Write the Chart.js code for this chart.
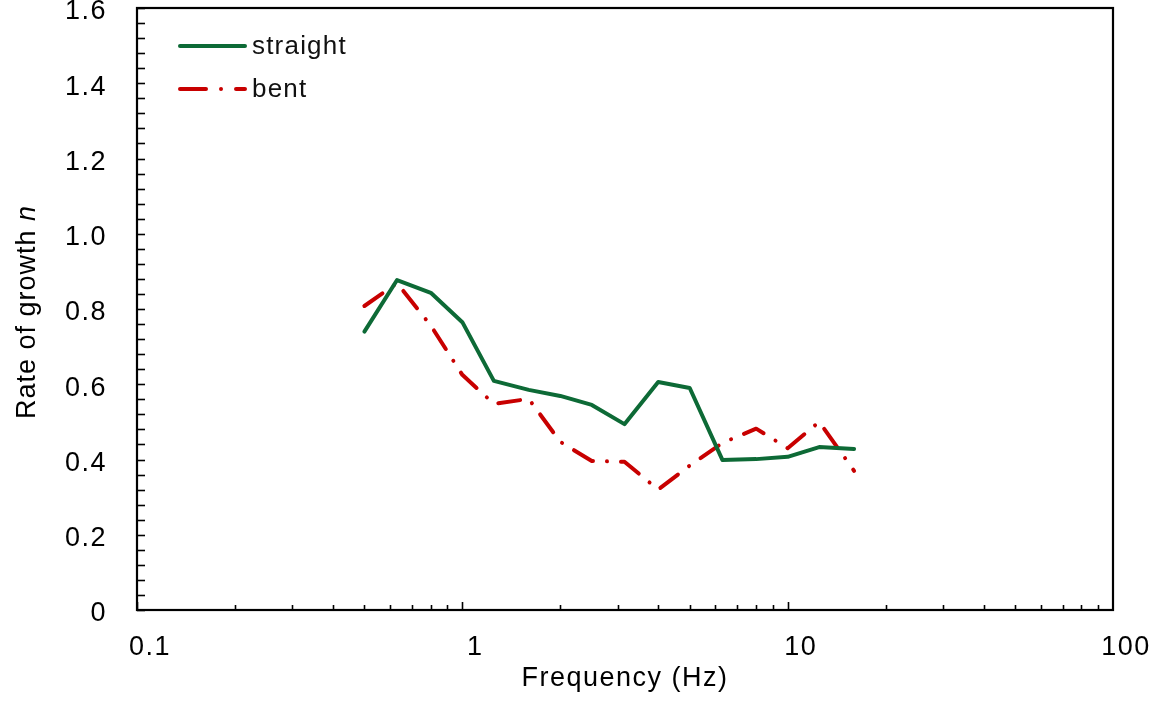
<!DOCTYPE html>
<html>
<head>
<meta charset="utf-8">
<script src="https://cdn.jsdelivr.net/npm/chart.js@4.4.1/dist/chart.umd.min.js"></script>
<style>
  html, body { margin: 0; padding: 0; background: #fff; }
  #wrap { width: 1159px; height: 702px; }
</style>
</head>
<body>
<div id="wrap"><canvas id="c" width="1159" height="702"></canvas></div>
<script>
// ---- data ----
const frequencies = [0.5, 0.63, 0.8, 1, 1.25, 1.6, 2, 2.5, 3.15, 4, 5, 6.3, 8, 10, 12.5, 16];
const straightValues = [0.740, 0.877, 0.843, 0.765, 0.609, 0.585, 0.569, 0.545, 0.494, 0.606, 0.590, 0.399, 0.401, 0.407, 0.433, 0.428];
const bentValues = [0.808, 0.869, 0.756, 0.625, 0.548, 0.561, 0.447, 0.396, 0.394, 0.320, 0.384, 0.444, 0.482, 0.430, 0.500, 0.370];
const seriesNames = ['straight', 'bent'];
const xTickValues = [0.1, 1, 10, 100];
const xTickLabels = ['0.1', '1', '10', '100'];
const yTickValues = [0, 0.2, 0.4, 0.6, 0.8, 1.0, 1.2, 1.4, 1.6];
const yTickLabels = ['0', '0.2', '0.4', '0.6', '0.8', '1.0', '1.2', '1.4', '1.6'];
const xTitle = 'Frequency (Hz)';
const yTitleMain = 'Rate of growth ';
const yTitleItalic = 'n';

const GREEN = '#0d6a36';
const RED = '#c80000';
const FONT = '"Liberation Sans", Arial, Helvetica, sans-serif';
const FS = 27;

const spacingPlugin = {
  id: 'spacing',
  beforeLayout(c) { c.ctx.letterSpacing = '1.5px'; },
  beforeDraw(c) { c.ctx.letterSpacing = '1.5px'; }
};

const framePlugin = {
  id: 'frame',
  afterDatasetsDraw(c) {
    const ctx = c.ctx, a = c.chartArea;
    const xs = c.scales.x, ys = c.scales.y;
    ctx.save();
    ctx.strokeStyle = '#000';
    ctx.lineWidth = 1.6;
    for (let i = 0; i <= 40; i++) {
      const py = Math.round(ys.getPixelForValue(i * 0.04)) + 0.5;
      ctx.beginPath(); ctx.moveTo(a.left, py); ctx.lineTo(a.left + 8, py); ctx.stroke();
    }
    for (let d = 0; d < 3; d++) {
      const dec = Math.pow(10, d - 1);
      for (let m = 1; m <= 9; m++) {
        const px = Math.round(xs.getPixelForValue(dec * m)) + 0.5;
        const len = m === 1 ? 8 : 5;
        ctx.beginPath(); ctx.moveTo(px, a.bottom); ctx.lineTo(px, a.bottom - len); ctx.stroke();
      }
    }
    ctx.lineWidth = 2.2;
    ctx.strokeRect(a.left, a.top, a.right - a.left, a.bottom - a.top);
    ctx.restore();
  },
  afterDraw(c) {
    const ctx = c.ctx, a = c.chartArea;
    ctx.save();
    ctx.letterSpacing = '1px';
    ctx.fillStyle = '#000';
    ctx.textBaseline = 'alphabetic';
    ctx.textAlign = 'left';
    const fN = FS + 'px ' + FONT, fI = 'italic ' + FS + 'px ' + FONT;
    ctx.font = fN; const w1 = ctx.measureText(yTitleMain).width;
    ctx.font = fI; const w2 = ctx.measureText(yTitleItalic).width;
    const cy = (a.top + a.bottom) / 2 + 3;
    ctx.translate(35, cy);
    ctx.rotate(-Math.PI / 2);
    ctx.font = fN; ctx.fillText(yTitleMain, -(w1 + w2) / 2, 0);
    ctx.font = fI; ctx.fillText(yTitleItalic, -(w1 + w2) / 2 + w1, 0);
    ctx.restore();

    ctx.save();
    ctx.letterSpacing = '1.2px';
    const rows = [46, 89];
    c.data.datasets.forEach((ds, i) => {
      const y = rows[i];
      ctx.strokeStyle = ds.borderColor;
      ctx.lineWidth = 4;
      ctx.lineCap = 'round';
      ctx.setLineDash(i === 0 ? [] : [26, 15, 0.01, 15]);
      ctx.beginPath(); ctx.moveTo(180, y); ctx.lineTo(245, y); ctx.stroke();
      ctx.setLineDash([]);
      ctx.fillStyle = '#111';
      ctx.font = '26px ' + FONT;
      ctx.textBaseline = 'middle';
      ctx.textAlign = 'left';
      ctx.fillText(ds.label, 252, y + 1);
    });
    ctx.restore();
  }
};

const toPts = vals => frequencies.map((f, i) => ({ x: f, y: vals[i] }));

new Chart(document.getElementById('c'), {
  type: 'line',
  data: {
    datasets: [
      { label: seriesNames[0], data: toPts(straightValues), borderColor: GREEN, backgroundColor: GREEN,
        borderWidth: 4, pointRadius: 0, tension: 0, fill: false, borderJoinStyle: 'round', borderCapStyle: 'round' },
      { label: seriesNames[1], data: toPts(bentValues), borderColor: RED, backgroundColor: RED,
        borderWidth: 4, pointRadius: 0, tension: 0, fill: false, borderDash: [22, 14, 0.01, 14],
        borderJoinStyle: 'round', borderCapStyle: 'round' }
    ]
  },
  options: {
    responsive: false,
    devicePixelRatio: 1,
    animation: false,
    layout: { padding: { left: 0, right: 46, top: 8, bottom: 0 } },
    plugins: { legend: { display: false }, tooltip: { enabled: false }, title: { display: false } },
    scales: {
      x: {
        type: 'logarithmic', min: 0.1, max: 100,
        afterBuildTicks: s => { s.ticks = xTickValues.map(v => ({ value: v, major: true })); },
        afterFit: s => { s.height = 92; s.paddingLeft = 0; s.paddingRight = 0; },
        grid: { display: false, drawTicks: false },
        border: { display: false },
        ticks: {
          autoSkip: false, maxRotation: 0, minRotation: 0, padding: 21, labelOffset: 13,
          color: '#000', font: { family: FONT, size: FS },
          callback: v => { const i = xTickValues.indexOf(v); return i >= 0 ? xTickLabels[i] : ''; }
        },
        title: { display: true, text: xTitle, color: '#000', font: { family: FONT, size: FS }, padding: { top: 0, bottom: 7 } }
      },
      y: {
        type: 'linear', min: 0, max: 1.6,
        afterBuildTicks: s => { s.ticks = yTickValues.map(v => ({ value: v })); },
        afterFit: s => { s.width = 137; s.paddingTop = 0; s.paddingBottom = 0; },
        grid: { display: false, drawTicks: false },
        border: { display: false },
        ticks: {
          padding: 30, labelOffset: 4, color: '#000', font: { family: FONT, size: FS },
          callback: v => { const i = yTickValues.findIndex(t => Math.abs(t - v) < 1e-9); return i >= 0 ? yTickLabels[i] : ''; }
        }
      }
    }
  },
  plugins: [spacingPlugin, framePlugin]
});
</script>
</body>
</html>
